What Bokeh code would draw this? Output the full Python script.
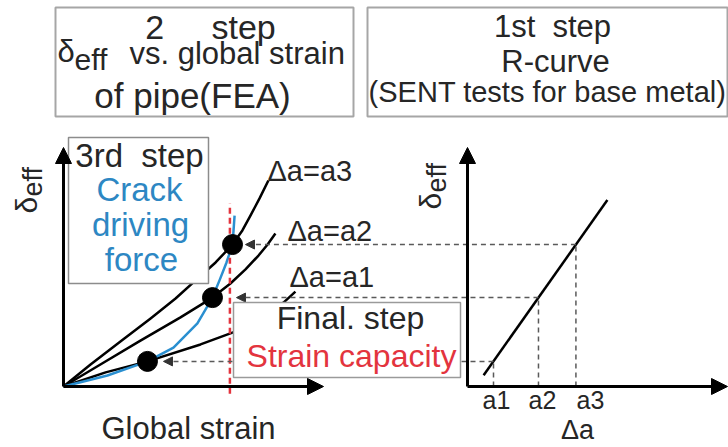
import math
from bokeh.plotting import figure
from bokeh.models import Range1d, Arrow, NormalHead, Label, BoxAnnotation
from bokeh.embed import file_html
from bokeh.resources import INLINE

# ---------------- data (schematic, arbitrary units) ----------------
# 2nd step: delta_eff vs global strain of pipe (FEA), one curve per crack extension
strain_a1 = [0.0, 0.162, 0.323, 0.527, 0.681, 0.777, 0.846, 0.892]
delta_a1 = [0.0, 0.059, 0.105, 0.176, 0.238, 0.293, 0.351, 0.397]
strain_a2 = [0.0, 0.142, 0.296, 0.450, 0.573, 0.642, 0.700, 0.750, 0.785, 0.815]
delta_a2 = [0.0, 0.092, 0.192, 0.289, 0.372, 0.431, 0.490, 0.548, 0.594, 0.640]
strain_a3 = [0.0, 0.104, 0.219, 0.335, 0.431, 0.508, 0.585, 0.650, 0.688, 0.719, 0.754, 0.788]
delta_a3 = [0.0, 0.092, 0.188, 0.285, 0.368, 0.444, 0.519, 0.594, 0.653, 0.715, 0.787, 0.862]
# 3rd step: crack driving force
strain_cdf = [0.0, 0.169, 0.323, 0.423, 0.515, 0.573, 0.600, 0.627, 0.650, 0.654, 0.658]
delta_cdf = [0.0, 0.046, 0.105, 0.163, 0.264, 0.372, 0.444, 0.519, 0.594, 0.653, 0.715]
# intersection points (crack driving force x curves)
strain_points = [0.323, 0.573, 0.650]
delta_levels = [0.105, 0.372, 0.594]
# 1st step: R-curve (SENT)
da_levels = [0.100, 0.273, 0.417]
rcurve_da = [0.062, 0.538]
rcurve_delta = [0.047, 0.780]
tick_labels = ["a1", "a2", "a3"]
curve_labels = ["\u0394a=a1", "\u0394a=a2", "\u0394a=a3"]
strain_capacity = 0.640

# ---------------- layout constants (pixels) ----------------
W, H = 728, 447
OX_L, OY = 63, 386          # left panel origin
OX_R = 467                  # right panel origin x
PX_S = 260.0                # px per strain unit
PX_A = 260.0                # px per delta-a unit
PX_D = 239.0                # px per delta unit
DA_SHIFT = (OX_R - OX_L) / PX_S
red_extent = [-0.03, 0.766]
tip_offsets_px = [16, 24, 13]
BL = 0.38                   # baseline correction (fraction of font size)

FONT = "Liberation Sans"
TXT = "#262626"
BLUE = "#2d87c3"
RED = "#e3343e"
DASH = "#5a5a5a"

p = figure(width=W, height=H,
           x_range=Range1d(-OX_L / PX_S, (W - OX_L) / PX_S),
           y_range=Range1d(-(H - OY) / PX_D, OY / PX_D),
           x_axis_type=None, y_axis_type=None, toolbar_location=None,
           output_backend="svg", min_border=0, outline_line_color=None)
p.extra_x_ranges = {"da": Range1d(-OX_R / PX_A, (W - OX_R) / PX_A)}
p.background_fill_color = "white"
p.border_fill_color = "white"

# curves
for xs, ys in [(strain_a1, delta_a1), (strain_a2, delta_a2), (strain_a3, delta_a3)]:
    p.line(xs, ys, line_color="black", line_width=2.5, line_join="round")
p.line(strain_cdf, delta_cdf, line_color="#2a8fd0", line_width=2.5, line_join="round")

# strain capacity line
p.segment(x0=[strain_capacity], y0=[red_extent[0]], x1=[strain_capacity], y1=[red_extent[1]],
          line_color=RED, line_width=2.5, line_dash="6 4")

# intersection dots
p.scatter(strain_points, delta_levels, size=20, color="black")

# R-curve
p.line(rcurve_da, rcurve_delta, x_range_name="da", line_color="black", line_width=2.5)
p.segment(x0=da_levels, y0=[0] * 3, x1=da_levels, y1=delta_levels, x_range_name="da",
          line_color=DASH, line_width=1.5, line_dash="5 4")

# connectors from R-curve to the dots
for a, d, s, off in zip(da_levels, delta_levels, strain_points, tip_offsets_px):
    p.add_layout(Arrow(x_start=a + DA_SHIFT, y_start=d, x_end=s + off / PX_S, y_end=d,
                       line_color=DASH, line_width=1.5, line_dash="5 4",
                       end=NormalHead(size=9, fill_color="#333", line_color="#333", line_width=1)))


def box(l, t, r, b, color, width):
    p.add_layout(BoxAnnotation(left=l, right=r, top=H - t, bottom=H - b,
                               left_units="screen", right_units="screen",
                               top_units="screen", bottom_units="screen",
                               fill_color="white", fill_alpha=1.0,
                               line_color=color, line_width=width, line_alpha=1.0))


box(55, 7, 353, 116, "#a6a6a6", 2)
box(367, 7, 727, 116, "#a6a6a6", 2)
box(68, 137, 208, 283, "#8c8c8c", 1.5)
box(233, 302, 460, 377, "#9a9a9a", 1.5)


# axes (arrows)
def axis_arrow(x1, y1, rng="default"):
    p.add_layout(Arrow(x_start=0, y_start=0, x_end=x1, y_end=y1, x_range_name=rng,
                       line_color="black", line_width=3,
                       end=NormalHead(size=16, fill_color="black", line_color="black")))


axis_arrow(1.0, 0.0)
axis_arrow(0.0, 1.0)
axis_arrow(1.0, 0.0, "da")
axis_arrow(0.0, 1.0, "da")


def put(text, x, y, size, color=TXT, align="left", angle=0.0):
    # (x, y): pixel position of the text's baseline start/centre, from top-left
    if angle:
        x = x - BL * size
    else:
        y = y - BL * size
    p.add_layout(Label(x=x, y=H - y, x_units="screen", y_units="screen", text=text,
                       text_font=FONT, text_font_size=f"{size}px", text_color=color,
                       text_align=align, text_baseline="alphabetic", angle=angle))


NB = "\u00a0"
# top-left box
put("2" + NB * 5 + "step", 210, 39, 34, align="center")
put("\u03b4", 57, 63, 31)
put("eff", 74, 70, 30)
put("vs. global strain", 129, 65, 31)
put("of pipe(FEA)", 192, 108, 35, align="center")
# top-right box
put("1st" + NB * 2 + "step", 552, 38, 31, align="center")
put("R-curve", 555, 73, 31, align="center")
put("(SENT tests for base metal)", 547, 103, 29, align="center")
# 3rd step box
put("3rd" + NB * 2 + "step", 139, 168, 33, align="center")
put("Crack", 139, 202, 33, BLUE, align="center")
put("driving", 140, 237, 33, BLUE, align="center")
put("force", 141, 272, 33, BLUE, align="center")
# final step box
put("Final. step", 350, 330, 32, align="center")
put("Strain capacity", 351, 368, 32, RED, align="center")
# curve labels
for lab, (lx, ly) in zip(curve_labels, [(289, 288), (287, 242), (267, 182)]):
    put(lab, lx, ly, 29)
# axis titles
put("Global strain", 188, 440, 31, align="center")
put("\u0394a", 577, 440, 27, align="center")
for lab, tx in zip(tick_labels, [496, 542, 590]):
    put(lab, tx, 409, 25, align="center")
put("\u03b4", 37, 213, 30, angle=math.pi / 2)
put("eff", 43, 196, 27, angle=math.pi / 2)
put("\u03b4", 441, 209, 30, angle=math.pi / 2)
put("eff", 447, 192, 27, angle=math.pi / 2)

open("out.html", "w").write(file_html(p, INLINE))
